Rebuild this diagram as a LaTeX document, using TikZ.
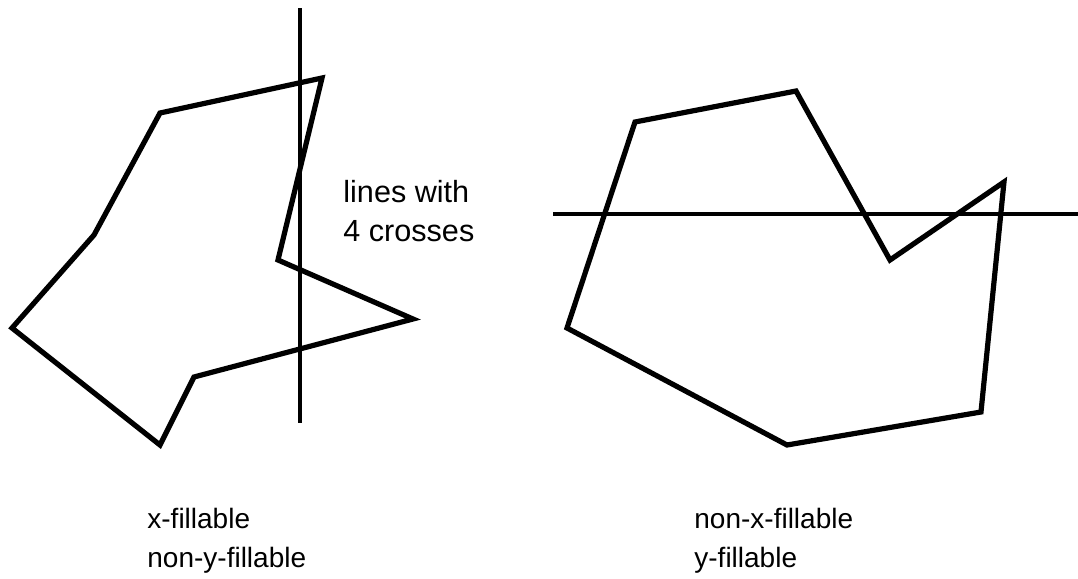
\documentclass[tikz,border=0pt]{standalone}
\usepackage{fontspec}
\setmainfont{Liberation Sans}
\usetikzlibrary{positioning}
\tikzset{
  outline/.style={line width=2.6pt,line join=miter},
  probe/.style={line width=1.6pt},
  caption/.style={align=left,inner sep=0pt,font=\fontsize{14}{19.5}\selectfont}
}

\begin{document}
\begin{tikzpicture}[x=0.5pt,y=-0.5pt]
  \useasboundingbox (0,0) rectangle (1078,579);
  % left polygon, cut four times by a vertical line
  \draw[outline] (160,113) -- (322,78) -- (278,260) -- (413,319) -- (194,377)
    -- (160,445) -- (12,328) -- (94,235) -- cycle;
  \draw[probe] (300,8) -- (300,423);
  \node[caption,anchor=west,font=\fontsize{15.3}{19.5}\selectfont] (note) at (343,211) {lines with\\4 crosses};
  % right polygon, cut four times by a horizontal line
  \draw[outline] (635,122) -- (796,91) -- (890,260) -- (1004,182) -- (981,412)
    -- (787,445) -- (567,328) -- cycle;
  \draw[probe,line width=2pt] (553,214) -- (1078,214);
  % captions
  \node[caption,anchor=west] (leftcap) at (147,541) {x-fillable\\non-y-fillable};
  \node[caption,anchor=west] (rightcap) at (694,541) {non-x-fillable\\y-fillable};
\end{tikzpicture}
\end{document}
